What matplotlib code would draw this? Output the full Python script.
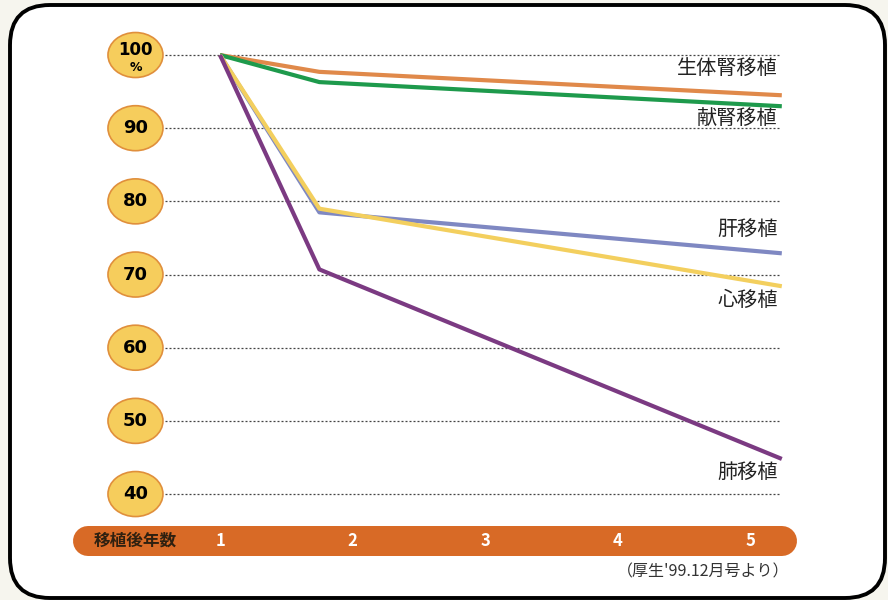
import matplotlib.pyplot as plt
import numpy as np
from matplotlib.patches import Ellipse, FancyBboxPatch

plt.rcParams['font.family'] = ['Noto Sans CJK JP', 'DejaVu Sans']

# survival rate (%) after transplant
years = [1, 1.75, 5.24]
kidney_living = [100, 97.7, 94.5]
kidney_donor = [100, 96.3, 93.0]
liver = [100, 78.5, 72.9]
heart = [100, 79.0, 68.4]
lung = [100, 70.7, 44.8]

names = ["生体腎移植", "献腎移植", "肝移植", "心移植", "肺移植"]
label_y = [98.2, 91.2, 76.1, 66.5, 43.0]
colors = ["#e0894a", "#1e9a4c", "#7f88c2", "#f3cf5e", "#7b3a82"]

y_ticks = [100, 90, 80, 70, 60, 50, 40]
x_ticks = [1, 2, 3, 4, 5]
x_title = "移植後年数"
source = "（厚生'99.12月号より）"

fig = plt.figure(figsize=(8.88, 6), dpi=100)
fig.patch.set_facecolor("#f6f5ee")

# frame in pixel coordinates
deco = fig.add_axes([0, 0, 1, 1])
deco.set_xlim(0, 888)
deco.set_ylim(600, 0)
deco.axis("off")
frame = FancyBboxPatch((10, 5), 875, 593, boxstyle="round,pad=0,rounding_size=40",
                       facecolor="white", edgecolor="black", linewidth=2.8)
deco.add_patch(frame)

ax = fig.add_axes([0, 0, 1, 1])
ax.set_facecolor("none")
ax.set_xlim(-0.6604, 6.0415)
ax.set_ylim(25.52, 107.52)
ax.axis("off")

# dotted grid lines
ax.hlines(y_ticks, 0.585, 5.23, colors="#444444", linewidth=0.9,
          linestyles=(0, (1.6, 1.6)), zorder=1)

# y labels in ellipses
num_font = ["DejaVu Sans"]
for v in y_ticks:
    ax.add_patch(Ellipse((0.362, v), 0.415, 6.15, facecolor="#f6cd5c",
                         edgecolor="#e08f3c", linewidth=1.2, zorder=3))
    if v == 100:
        ax.text(0.362, v + 0.75, "100", ha="center", va="center", fontsize=12,
                fontweight="bold", family=num_font, zorder=4)
        ax.text(0.362, v - 1.75, "%", ha="center", va="center", fontsize=9,
                fontweight="bold", family=num_font, zorder=4)
    else:
        ax.text(0.362, v, str(v), ha="center", va="center", fontsize=13,
                fontweight="bold", family=num_font, zorder=4)

series = [kidney_living, kidney_donor, liver, heart, lung]
order = [1, 0, 2, 3, 4]
for i in order:
    ax.plot(years, series[i], color=colors[i], linewidth=3, solid_capstyle="butt", zorder=5 + i)

for name, y in zip(names, label_y):
    ax.text(5.21, y, name, ha="right", va="center", fontsize=14.5, color="#222222")

# bottom bar with year labels
ax.plot([-0.0, 5.24], [33.58, 33.58], color="#d86a26", linewidth=21.6,
        solid_capstyle="round", zorder=2)
ax.text(0.36, 33.58, x_title, ha="center", va="center", fontsize=12,
        fontweight="bold", color="#2e2010", zorder=3)
for t in x_ticks:
    ax.text(t, 33.58, str(t), ha="center", va="center", fontsize=12,
            fontweight="bold", color="white", zorder=3)

ax.text(4.645, 29.35, source, ha="center", va="center", fontsize=11.5, color="#333333")

fig.savefig("out.png", dpi=100, facecolor=fig.get_facecolor())
